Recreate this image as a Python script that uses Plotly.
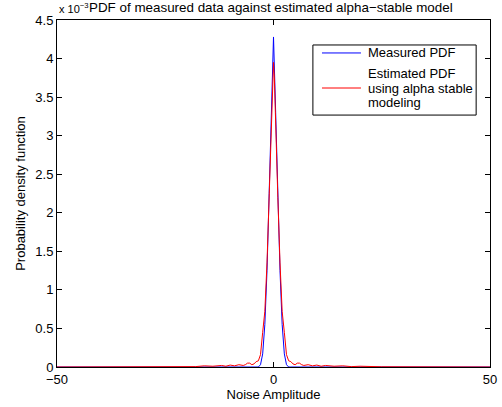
import plotly.graph_objects as go

# Measured PDF (values in units of 1e-3)
x_measured = [-50, -4, -3.5, -3, -2.5, -2, -1.5, -1, -0.5, 0, 0.5, 1, 1.5, 2, 2.5, 3, 3.5, 4, 50]
pdf_measured = [0, 0, 0, 0.03, 0.17, 0.55, 1.25, 2.25, 3.3, 4.28, 3.3, 2.25, 1.25, 0.55, 0.17, 0.03, 0, 0, 0]

# Estimated alpha-stable PDF (values in units of 1e-3)
x_model = [-50, -25, -20, -18, -16, -14, -12, -11, -10, -9, -8, -7, -6.5, -6, -5.5, -5, -4.5, -4, -3.5,
           -3, -2.5, -2, -1.5, -1, -0.5, -0.2, 0, 0.2, 0.5, 1, 1.5, 2, 2.5, 3, 3.5, 4, 4.5, 5, 5.5, 6, 6.5, 7,
           8, 9, 10, 11, 12, 14, 16, 18, 20, 25, 50]
pdf_model = [0, 0.003, 0.01, 0.005, 0.015, 0.01, 0.02, 0.01, 0.025, 0.015, 0.03, 0.02, 0.03, 0.05, 0.05,
             0.03, 0.04, 0.07, 0.08, 0.16, 0.45, 0.72, 1.35, 2.2, 3.1, 3.75, 3.95, 3.75, 3.1, 2.2, 1.35, 0.72, 0.45,
             0.16, 0.08, 0.07, 0.04, 0.03, 0.05, 0.05, 0.03, 0.02, 0.03, 0.015, 0.025, 0.01, 0.02,
             0.01, 0.015, 0.005, 0.01, 0.003, 0]

y_ticks = [0, 0.5, 1, 1.5, 2, 2.5, 3, 3.5, 4, 4.5]
x_ticks = [-50, 0, 50]

legend_measured = ["Measured PDF"]
legend_model = ["Estimated PDF", "using alpha stable", "modeling"]

FONT = "Liberation Sans, Arial, Helvetica, sans-serif"
BLUE = "#0000ff"
RED = "#ff0000"

fig = go.Figure()
fig.add_trace(go.Scatter(x=x_measured, y=pdf_measured, mode="lines",
                         line=dict(color=BLUE, width=1), name="Measured PDF", showlegend=False))
fig.add_trace(go.Scatter(x=x_model, y=pdf_model, mode="lines",
                         line=dict(color=RED, width=1),
                         name="Estimated PDF using alpha stable modeling", showlegend=False))

axis_common = dict(showline=True, linecolor="black", linewidth=1, mirror="ticks",
                   ticks="inside", ticklen=5, tickcolor="black", showgrid=False,
                   zeroline=False, automargin=False, tickfont=dict(size=13, color="black"))

# ---- hand-built legend box (paper coordinates) ----
LX0, LX1, LY0, LY1 = 0.591, 0.968, 0.726, 0.928
LINE_X0, LINE_X1, TEXT_X = 0.612, 0.702, 0.7136
ROW_Y = [0.905, 0.847, 0.804, 0.761]

shapes = [
    dict(type="rect", xref="paper", yref="paper", x0=LX0, x1=LX1, y0=LY0, y1=LY1,
         line=dict(color="black", width=1), fillcolor="white", layer="above"),
    dict(type="line", xref="paper", yref="paper", x0=LINE_X0, x1=LINE_X1, y0=ROW_Y[0], y1=ROW_Y[0],
         line=dict(color=BLUE, width=1), layer="above"),
    dict(type="line", xref="paper", yref="paper", x0=LINE_X0, x1=LINE_X1, y0=ROW_Y[2], y1=ROW_Y[2],
         line=dict(color=RED, width=1), layer="above"),
]

annotations = [
    dict(text="PDF of measured data against estimated alpha\u2212stable model",
         xref="paper", yref="paper", x=0.5, y=1, xanchor="center", yanchor="bottom",
         xshift=-3, yshift=2.5, showarrow=False, font=dict(size=13.4)),
    dict(text="x 10<sup>\u22123</sup>", xref="paper", yref="paper", x=0, y=1,
         xanchor="left", yanchor="bottom", yshift=3, showarrow=False, font=dict(size=11)),
]
for txt, yy in zip(legend_measured + legend_model, ROW_Y):
    annotations.append(dict(text=txt, xref="paper", yref="paper", x=TEXT_X, y=yy,
                            xanchor="left", yanchor="middle", showarrow=False,
                            font=dict(size=13)))

fig.update_layout(
    width=502, height=407,
    margin=dict(l=57, r=12, t=20, b=40, autoexpand=False),
    paper_bgcolor="white", plot_bgcolor="white",
    font=dict(family=FONT, size=13, color="black"),
    showlegend=False,
    xaxis=dict(range=[-50, 50], tickvals=x_ticks,
               title=dict(text="Noise Amplitude", standoff=2, font=dict(size=13)),
               **axis_common),
    yaxis=dict(range=[0, 4.5], tickvals=y_ticks,
               title=dict(text="Probability density function", standoff=6, font=dict(size=13)),
               **axis_common),
    shapes=shapes,
    annotations=annotations,
)

fig.write_html("out.html", config={"displayModeBar": False},
               post_script="document.body.style.margin='0';document.body.style.overflow='hidden';")
